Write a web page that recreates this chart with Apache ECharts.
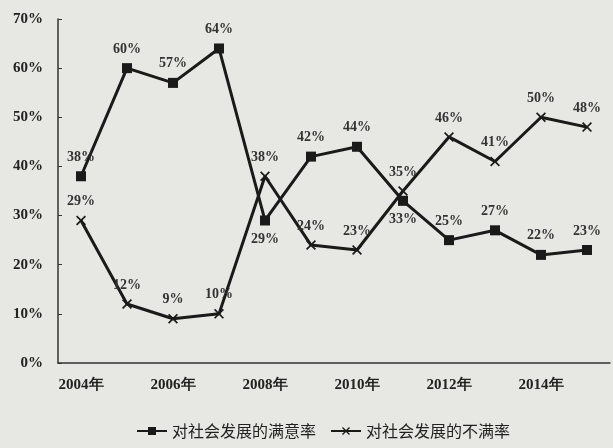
<!DOCTYPE html>
<html><head><meta charset="utf-8">
<script src="https://cdn.jsdelivr.net/npm/echarts@6/dist/echarts.min.js"></script>
<style>html,body{margin:0;padding:0;background:#e7e7e3;}#c{width:613px;height:448px;}</style>
</head><body><div id="c"></div>
<script>
var years = ['2004年','2005年','2006年','2007年','2008年','2009年','2010年','2011年','2012年','2013年','2014年','2015年'];
var satisfied = [38, 60, 57, 64, 29, 42, 44, 33, 25, 27, 22, 23];
var dissatisfied = [29, 12, 9, 10, 38, 24, 23, 35, 46, 41, 50, 48];
var satisfiedBelow = [4, 7];
var yTicks = ['0%','10%','20%','30%','40%','50%','60%','70%'];
var seriesNames = ['对社会发展的满意率','对社会发展的不满率'];

var ink = '#222';
var serif = '"Liberation Serif","DejaVu Serif",serif';
var xPath = 'path://M0,1.2L1.2,0L5,3.8L8.8,0L10,1.2L6.2,5L10,8.8L8.8,10L5,6.2L1.2,10L0,8.8L3.8,5Z';

function labelled(vals, below) {
  return vals.map(function (v, i) {
    var d = {value: v};
    if (below && below.indexOf(i) >= 0) d.label = {position: 'bottom'};
    return d;
  });
}
var lbl = {show: true, position: 'top', distance: 7, formatter: '{c}%',
  fontFamily: serif, fontWeight: 'bold', fontSize: 14, color: '#333'};

var chart = echarts.init(document.getElementById('c'));
chart.setOption({
  backgroundColor: '#e7e7e3',
  animation: false,
  grid: {left: 58, right: 3, top: 19, bottom: 85},
  legend: {
    left: 131, top: 418, itemWidth: 30, itemHeight: 10, itemGap: 14,
    textStyle: {fontFamily: '"Noto Sans CJK SC",sans-serif', fontSize: 16, color: ink},
    data: seriesNames
  },
  xAxis: {
    type: 'category', data: years, boundaryGap: true,
    axisLine: {lineStyle: {color: '#333', width: 1.5}},
    axisTick: {inside: true, length: 4, interval: 1, lineStyle: {color: '#333'}},
    axisLabel: {interval: 1, margin: 15, fontFamily: serif, fontWeight: 'bold', fontSize: 15, color: ink}
  },
  yAxis: {
    type: 'value', min: 0, max: 70, interval: 10,
    axisLine: {show: true, lineStyle: {color: '#333', width: 1.5}},
    axisTick: {show: true, inside: true, length: 4, lineStyle: {color: '#333'}},
    splitLine: {show: false},
    axisLabel: {margin: 15, fontFamily: serif, fontWeight: 'bold', fontSize: 15, color: ink,
      formatter: function (v) { return yTicks[Math.round(v / 10)]; }}
  },
  series: [
    {name: seriesNames[0], type: 'line', data: labelled(satisfied, satisfiedBelow),
     symbol: 'rect', symbolSize: 10, lineStyle: {color: '#1a1a1a', width: 3},
     itemStyle: {color: '#1a1a1a'}, label: lbl},
    {name: seriesNames[1], type: 'line', data: labelled(dissatisfied),
     symbol: xPath, symbolSize: 10, lineStyle: {color: '#1a1a1a', width: 3},
     itemStyle: {color: '#1a1a1a'}, label: lbl}
  ]
});
</script></body></html>
